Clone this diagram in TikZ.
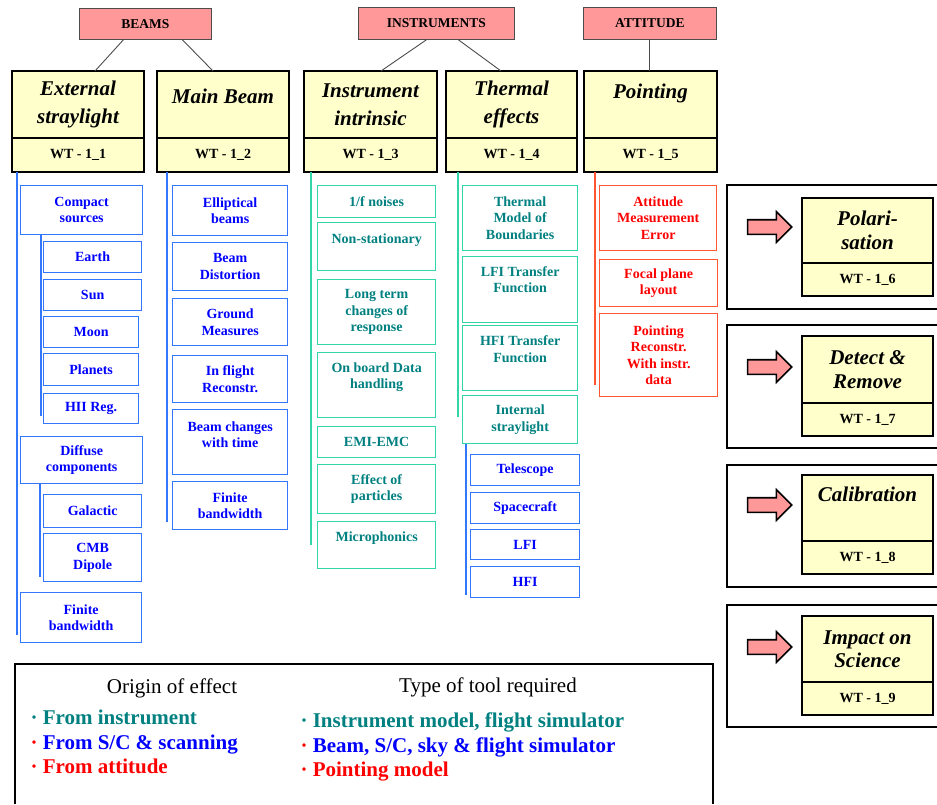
\documentclass[tikz,border=0pt]{standalone}
\usepackage{fontspec}
\setmainfont{Liberation Serif}
\usetikzlibrary{positioning,calc,shapes.arrows}

\definecolor{pinkbox}{HTML}{FF9999}
\definecolor{yelbox}{HTML}{FFFFCC}
\definecolor{bluetxt}{HTML}{0000FF}
\definecolor{blueline}{HTML}{3377FF}
\definecolor{tealtxt}{HTML}{008080}
\definecolor{tealline}{HTML}{33D6A8}
\definecolor{redtxt}{HTML}{FF0000}
\definecolor{redline}{HTML}{FF5533}

\newcommand\boxfont{\fontsize{14}{16.5}\selectfont\bfseries}
\newcommand\titlefont{\fontsize{21}{28}\selectfont\bfseries\itshape}
\newcommand\sidefont{\fontsize{21}{23.5}\selectfont\bfseries\itshape}
\newcommand\wtfont{\fontsize{14}{16}\selectfont\bfseries}
\newcommand\tagfont{\fontsize{13.5}{16}\selectfont\bfseries}
\newcommand\legfont{\fontsize{21}{24}\selectfont}

\begin{document}
\begin{tikzpicture}[x=1pt,y=-1pt,>=latex,
  sub/.style={draw,line width=1.3pt,align=center,anchor=north west,inner sep=2pt,font=\boxfont},
  bsub/.style={sub,draw=blueline,text=bluetxt},
  tsub/.style={sub,draw=tealline,text=tealtxt},
  rsub/.style={sub,draw=redline,text=redtxt},
  head/.style={draw,line width=2.3pt,fill=yelbox,anchor=north west,align=center,inner sep=2pt,
    outer sep=0pt,font=\titlefont},
  side/.style={head,font=\sidefont},
  wt/.style={draw,line width=2.3pt,fill=yelbox,inner sep=2pt,outer sep=0pt,font=\wtfont},
  tag/.style={draw=black!70,line width=0.8pt,fill=pinkbox,anchor=north west,font=\tagfont},
  lift/.style={text depth=#1},
  link/.style={black!70,line width=0.9pt},
  bline/.style={blueline,line width=1.4pt},
  tline/.style={tealline,line width=1.4pt},
  rline/.style={redline,line width=1.4pt},
  frame/.style={black,line width=1.8pt},
  blockarrow/.style={single arrow,draw=black,line width=1.6pt,fill=pinkbox,inner sep=6.5pt,
    minimum height=44pt,single arrow head extend=8pt},
  legitem/.style={anchor=base west,font=\legfont\bfseries}]
\useasboundingbox (0,0) rectangle (937,804);

% groups
\node[tag,minimum width=132pt,minimum height=31pt] (beams) at (79,8) {BEAMS};
\node[tag,minimum width=156pt,minimum height=32pt] (instr) at (358,7) {INSTRUMENTS};
\node[tag,minimum width=133pt,minimum height=32pt] (att) at (583,7) {ATTITUDE};

% work packages
\node[head,minimum width=132pt,minimum height=67pt] (ext) at (12,71) {External\\straylight};
\node[wt,minimum width=132pt,minimum height=34pt,below=0pt of ext] (wt1) {WT - 1\_1};
\node[head,minimum width=132pt,minimum height=67pt,lift=17pt] (mbeam) at (157,71) {Main Beam};
\node[wt,minimum width=132pt,minimum height=34pt,below=0pt of mbeam] (wt2) {WT - 1\_2};
\node[head,minimum width=133pt,minimum height=67pt] (intr) at (304,71) {Instrument\\intrinsic};
\node[wt,minimum width=133pt,minimum height=34pt,below=0pt of intr] (wt3) {WT - 1\_3};
\node[head,minimum width=131pt,minimum height=67pt] (therm) at (446,71) {Thermal\\effects};
\node[wt,minimum width=131pt,minimum height=34pt,below=0pt of therm] (wt4) {WT - 1\_4};
\node[head,minimum width=133pt,minimum height=67pt,lift=27pt] (point) at (584,71) {Pointing};
\node[wt,minimum width=133pt,minimum height=34pt,below=0pt of point] (wt5) {WT - 1\_5};

\draw[link] ([xshift=-22pt]beams.south) -- ([xshift=17pt]ext.north);
\draw[link] ([xshift=37pt]beams.south) -- ([xshift=-10pt]mbeam.north);
\draw[link] ([xshift=-10pt]instr.south) -- ([xshift=10.5pt]intr.north);
\draw[link] ([xshift=22pt]instr.south) -- ([xshift=-10.5pt]therm.north);
\draw[link] (att.south) -- (att.south |- point.north);

% external straylight
\node[bsub,minimum width=122pt,minimum height=49pt] (cs) at (20,185) {Compact\\sources};
\node[bsub,minimum width=98pt,minimum height=31pt] (earth) at (43,241) {Earth};
\node[bsub,minimum width=98pt,minimum height=31pt] (sun) at (43,279) {Sun};
\node[bsub,minimum width=95pt,minimum height=31pt] (moon) at (43,316) {Moon};
\node[bsub,minimum width=95pt,minimum height=32pt] (planets) at (43,353) {Planets};
\node[bsub,minimum width=95pt,minimum height=30pt] (hii) at (43,393) {HII Reg.};
\node[bsub,minimum width=122pt,minimum height=47pt] (diff) at (20,436) {Diffuse\\components};
\node[bsub,minimum width=98pt,minimum height=33pt] (gal) at (43,494) {Galactic};
\node[bsub,minimum width=98pt,minimum height=48pt] (cmb) at (43,533) {CMB\\Dipole};
\node[bsub,minimum width=121pt,minimum height=50pt] (fb1) at (20,592) {Finite\\bandwidth};
\draw[bline] ([xshift=5pt]wt1.south west) -- ++(0,463);
\draw[bline] ([xshift=21pt]cs.south west) -- ++(0,181);
\draw[bline] ([xshift=20pt]diff.south west) -- ++(0,93);

% main beam
\node[bsub,minimum width=115pt,minimum height=50pt] (ell) at (172,185) {Elliptical\\beams};
\node[bsub,minimum width=115pt,minimum height=48pt] (dist) at (172,242) {Beam\\Distortion};
\node[bsub,minimum width=115pt,minimum height=47pt] (ground) at (172,298) {Ground\\Measures};
\node[bsub,minimum width=115pt,minimum height=47pt] (infl) at (172,355) {In flight\\Reconstr.};
\node[bsub,minimum width=115pt,minimum height=65pt,lift=15pt] (bchg) at (172,409) {Beam changes\\with time};
\node[bsub,minimum width=115pt,minimum height=48pt] (fb2) at (172,481) {Finite\\bandwidth};
\draw[bline] ([xshift=10pt]wt2.south west) -- ++(0,350);

% instrument intrinsic
\node[tsub,minimum width=118pt,minimum height=32pt] (noise) at (317,185) {1/f noises};
\node[tsub,minimum width=118pt,minimum height=48pt,lift=17pt] (nons) at (317,222) {Non-stationary};
\node[tsub,minimum width=118pt,minimum height=65pt] (lterm) at (317,279) {Long term\\changes of\\response};
\node[tsub,minimum width=118pt,minimum height=65pt,lift=19pt] (onb) at (317,352) {On board Data\\handling};
\node[tsub,minimum width=118pt,minimum height=31pt] (emi) at (317,426) {EMI-EMC};
\node[tsub,minimum width=118pt,minimum height=49pt] (part) at (317,464) {Effect of\\particles};
\node[tsub,minimum width=118pt,minimum height=47pt,lift=17pt] (micro) at (317,521) {Microphonics};
\draw[tline] ([xshift=7pt]wt3.south west) -- ++(0,373);

% thermal effects
\node[tsub,minimum width=115pt,minimum height=65pt] (thm) at (462,185) {Thermal\\Model of\\Boundaries};
\node[tsub,minimum width=115pt,minimum height=66pt,lift=20pt] (lfitf) at (462,256) {LFI Transfer\\Function};
\node[tsub,minimum width=115pt,minimum height=65pt,lift=18pt] (hfitf) at (462,325) {HFI Transfer\\Function};
\node[tsub,minimum width=115pt,minimum height=48pt] (istr) at (462,395) {Internal\\straylight};
\node[bsub,minimum width=109pt,minimum height=31pt] (tel) at (470,454) {Telescope};
\node[bsub,minimum width=109pt,minimum height=31pt] (sc) at (470,492) {Spacecraft};
\node[bsub,minimum width=109pt,minimum height=30pt] (lfi) at (470,529) {LFI};
\node[bsub,minimum width=109pt,minimum height=31pt] (hfi) at (470,566) {HFI};
\draw[tline] ([xshift=12pt]wt4.south west) -- ++(0,245);
\draw[bline] ([xshift=4pt]istr.south west) -- ++(0,151);

% pointing
\node[rsub,minimum width=117pt,minimum height=65pt] (ame) at (599,185) {Attitude\\Measurement\\Error};
\node[rsub,minimum width=118pt,minimum height=47pt] (fpl) at (599,259) {Focal plane\\layout};
\node[rsub,minimum width=118pt,minimum height=83pt] (prec) at (599,313) {Pointing\\Reconstr.\\With instr.\\data};
\draw[rline] ([xshift=11pt]wt5.south west) -- ++(0,213);

% further work packages
\draw[frame] (937,185) -- (727,185) -- (727,309) -- (937,309);
\node[blockarrow] (ar6) at (766,227) {};
\node[side,minimum width=131pt,minimum height=65pt] (polar) at (802,198) {Polari-\\sation};
\node[wt,minimum width=131pt,minimum height=33pt,below=0pt of polar] (wt6) {WT - 1\_6};

\draw[frame] (937,325) -- (727,325) -- (727,448) -- (937,448);
\node[blockarrow] (ar7) at (766,367) {};
\node[side,minimum width=131pt,minimum height=67pt] (detect) at (802,336) {Detect \&\\Remove};
\node[wt,minimum width=131pt,minimum height=33pt,below=0pt of detect] (wt7) {WT - 1\_7};

\draw[frame] (937,465) -- (727,465) -- (727,587) -- (937,587);
\node[blockarrow] (ar8) at (766,505) {};
\node[side,minimum width=131pt,minimum height=66pt,lift=28pt] (calib) at (802,475) {Calibration};
\node[wt,minimum width=131pt,minimum height=33pt,below=0pt of calib] (wt8) {WT - 1\_8};

\draw[frame] (937,605) -- (727,605) -- (727,727) -- (937,727);
\node[blockarrow] (ar9) at (766,647) {};
\node[side,minimum width=131pt,minimum height=66pt] (impact) at (802,616) {Impact on\\Science};
\node[wt,minimum width=131pt,minimum height=33pt,below=0pt of impact] (wt9) {WT - 1\_9};

% legend
\draw[frame] (15,804) -- (15,664) -- (713,664) -- (713,804);
\node[anchor=base,font=\legfont] (orig) at (172,693) {Origin of effect};
\node[anchor=base,font=\legfont] (tool) at (488,692) {Type of tool required};
\node[legitem,text=tealtxt] (o1) at (27,724) {· From instrument};
\node[legitem,text=bluetxt] (o2) at (27,749) {{\color{redtxt}·} From S/C \& scanning};
\node[legitem,text=redtxt] (o3) at (27,773) {· From attitude};
\node[legitem,text=tealtxt] (t1) at (297,727) {· Instrument model, flight simulator};
\node[legitem,text=bluetxt] (t2) at (297,752) {{\color{redtxt}·} Beam, S/C, sky \& flight simulator};
\node[legitem,text=redtxt] (t3) at (297,776) {· Pointing model};
\end{tikzpicture}
\end{document}
